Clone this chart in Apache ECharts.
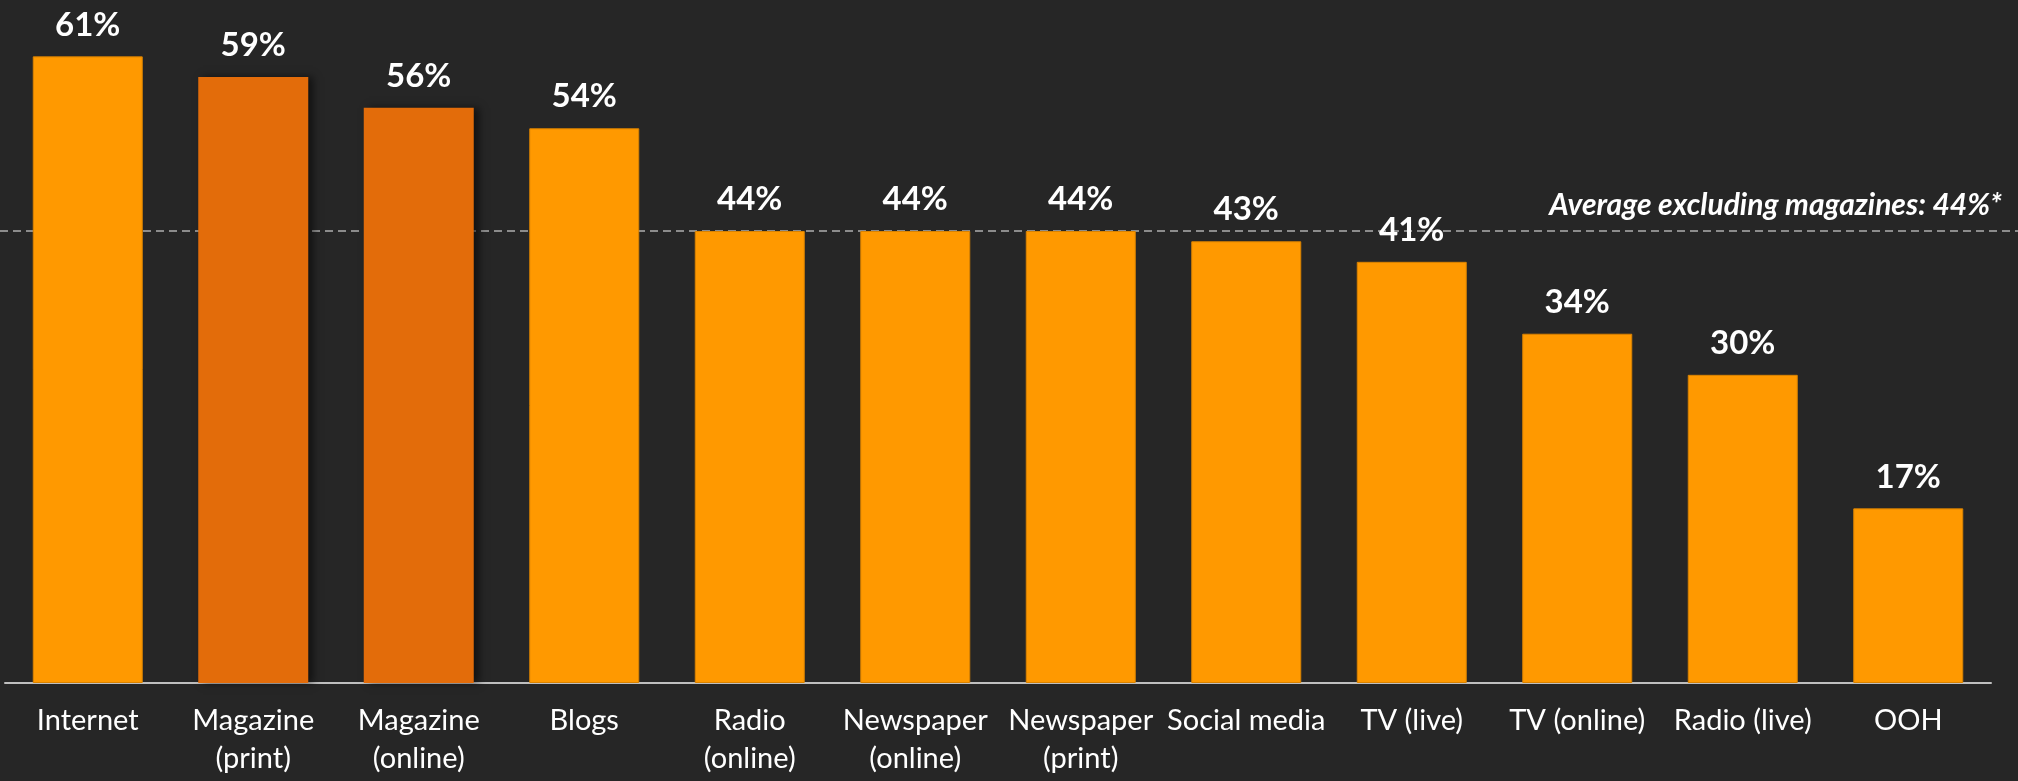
<!DOCTYPE html>
<html>
<head>
<meta charset="utf-8">
<script src="https://cdn.jsdelivr.net/npm/echarts@6/dist/echarts.min.js"></script>
<style>
  html, body { margin: 0; padding: 0; background: #262626; }
  #chart { width: 2018px; height: 781px; }
</style>
</head>
<body>
<div id="chart"></div>
<script>
// Share of respondents by media channel (%)
const categories = [
  'Internet', 'Magazine\n(print)', 'Magazine\n(online)', 'Blogs',
  'Radio\n(online)', 'Newspaper\n(online)', 'Newspaper\n(print)', 'Social media',
  'TV (live)', 'TV (online)', 'Radio (live)', 'OOH'
];
const values = [61, 59, 56, 54, 44, 44, 44, 43, 41, 34, 30, 17];
// Magazine channels are highlighted in a darker orange
const highlighted = [false, true, true, false, false, false, false, false, false, false, false, false];
const averageValue = 44;
const averageText = 'Average excluding magazines: 44%*';

const BRIGHT = '#FF9900';
const DARK = '#E36C0A';

const chart = echarts.init(document.getElementById('chart'));

const barData = values.map((v, i) => ({
  value: v,
  itemStyle: highlighted[i]
    ? { color: DARK, shadowColor: 'rgba(0,0,0,0.55)', shadowBlur: 8, shadowOffsetX: 5, shadowOffsetY: 0 }
    : { color: BRIGHT, borderColor: '#D98200', borderWidth: 1 }
}));

chart.setOption({
  backgroundColor: '#262626',
  animation: false,
  grid: { left: 5, right: 27, top: 5, bottom: 98 },
  xAxis: {
    type: 'category',
    data: categories,
    axisLine: { lineStyle: { color: '#BFBFBF', width: 2 } },
    axisTick: { show: false },
    axisLabel: {
      interval: 0,
      color: '#FFFFFF',
      fontFamily: 'Lato',
      fontSize: 29,
      lineHeight: 38,
      margin: 19
    }
  },
  yAxis: {
    type: 'value',
    min: 0,
    max: 66,
    show: false,
    splitLine: { show: false }
  },
  series: [{
    type: 'bar',
    data: barData,
    barWidth: 110,
    label: {
      show: true,
      position: 'top',
      distance: 15,
      formatter: '{c}%',
      color: '#FFFFFF',
      fontFamily: 'Lato',
      fontWeight: 'bold',
      fontSize: 33
    }
  }]
});

// Dashed average line across the full width, positioned by the value axis
function drawAverage() {
  const y = chart.convertToPixel({ yAxisIndex: 0 }, averageValue);
  const w = chart.getWidth();
  chart.setOption({
    graphic: [
      {
        type: 'line',
        shape: { x1: 0, y1: y, x2: w, y2: y },
        style: { stroke: '#8C8C8C', lineWidth: 2, lineDash: [8, 5] },
        z: 0
      },
      {
        type: 'text',
        x: 2002,
        y: y - 11,
        style: {
          text: averageText,
          fill: '#FFFFFF',
          font: 'italic bold 30px Lato',
          textAlign: 'right',
          textVerticalAlign: 'bottom'
        },
        z: 10
      }
    ]
  });
}
drawAverage();
</script>
</body>
</html>
